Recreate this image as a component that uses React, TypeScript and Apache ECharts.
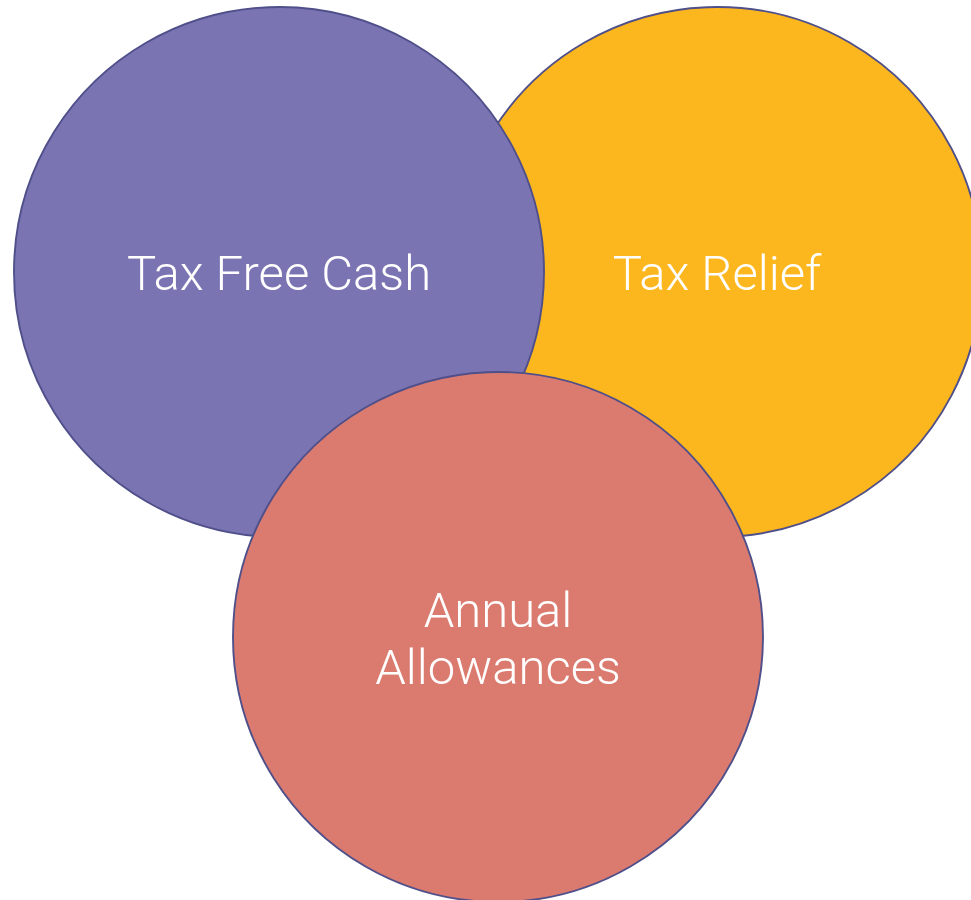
import React, { useEffect, useRef } from "react";
import * as echarts from "echarts";

const labels = ["Tax Relief", "Tax Free Cash", "Annual\nAllowances"];
const centerX = [717, 279, 498];
const centerY = [272, 272, 637];
const radii = [265, 265, 265];
const fills = ["#FDB71E", "#7B74B3", "#DB7B70"];

export default function App() {
  const ref = useRef<HTMLDivElement>(null);
  useEffect(() => {
    document.body.style.margin = "0";
    const chart = echarts.init(ref.current!, null, { renderer: "svg" });
    const data = labels.map((l, i) => [centerX[i], centerY[i], radii[i], i]);
    chart.setOption({
      animation: false,
      grid: { left: 0, right: 0, top: 0, bottom: 0 },
      xAxis: { type: "value", min: 0, max: 971, show: false },
      yAxis: { type: "value", min: 0, max: 900, inverse: true, show: false },
      series: [
        {
          type: "custom",
          coordinateSystem: "cartesian2d",
          clip: false,
          data,
          renderItem: (params: any, api: any) => {
            const idx = api.value(3);
            const c = api.coord([api.value(0), api.value(1)]);
            const r = api.size([api.value(2), 0])[0];
            return {
              type: "group",
              children: [
                {
                  type: "circle",
                  shape: { cx: c[0], cy: c[1], r },
                  style: { fill: fills[idx], stroke: "#4F4F8A", lineWidth: 1.9 },
                },
                {
                  type: "text",
                  x: c[0],
                  y: c[1] + (idx === 2 ? 2 : 1),
                  style: {
                    text: labels[idx],
                    fill: "#ffffff",
                    fontFamily: "Roboto",
                    fontWeight: 300,
                    fontSize: 49,
                    lineHeight: 57,
                    align: "center",
                    verticalAlign: "middle",
                  },
                },
              ],
            };
          },
        },
      ],
    });
    return () => chart.dispose();
  }, []);
  return <div ref={ref} style={{ width: 971, height: 900 }} />;
}
